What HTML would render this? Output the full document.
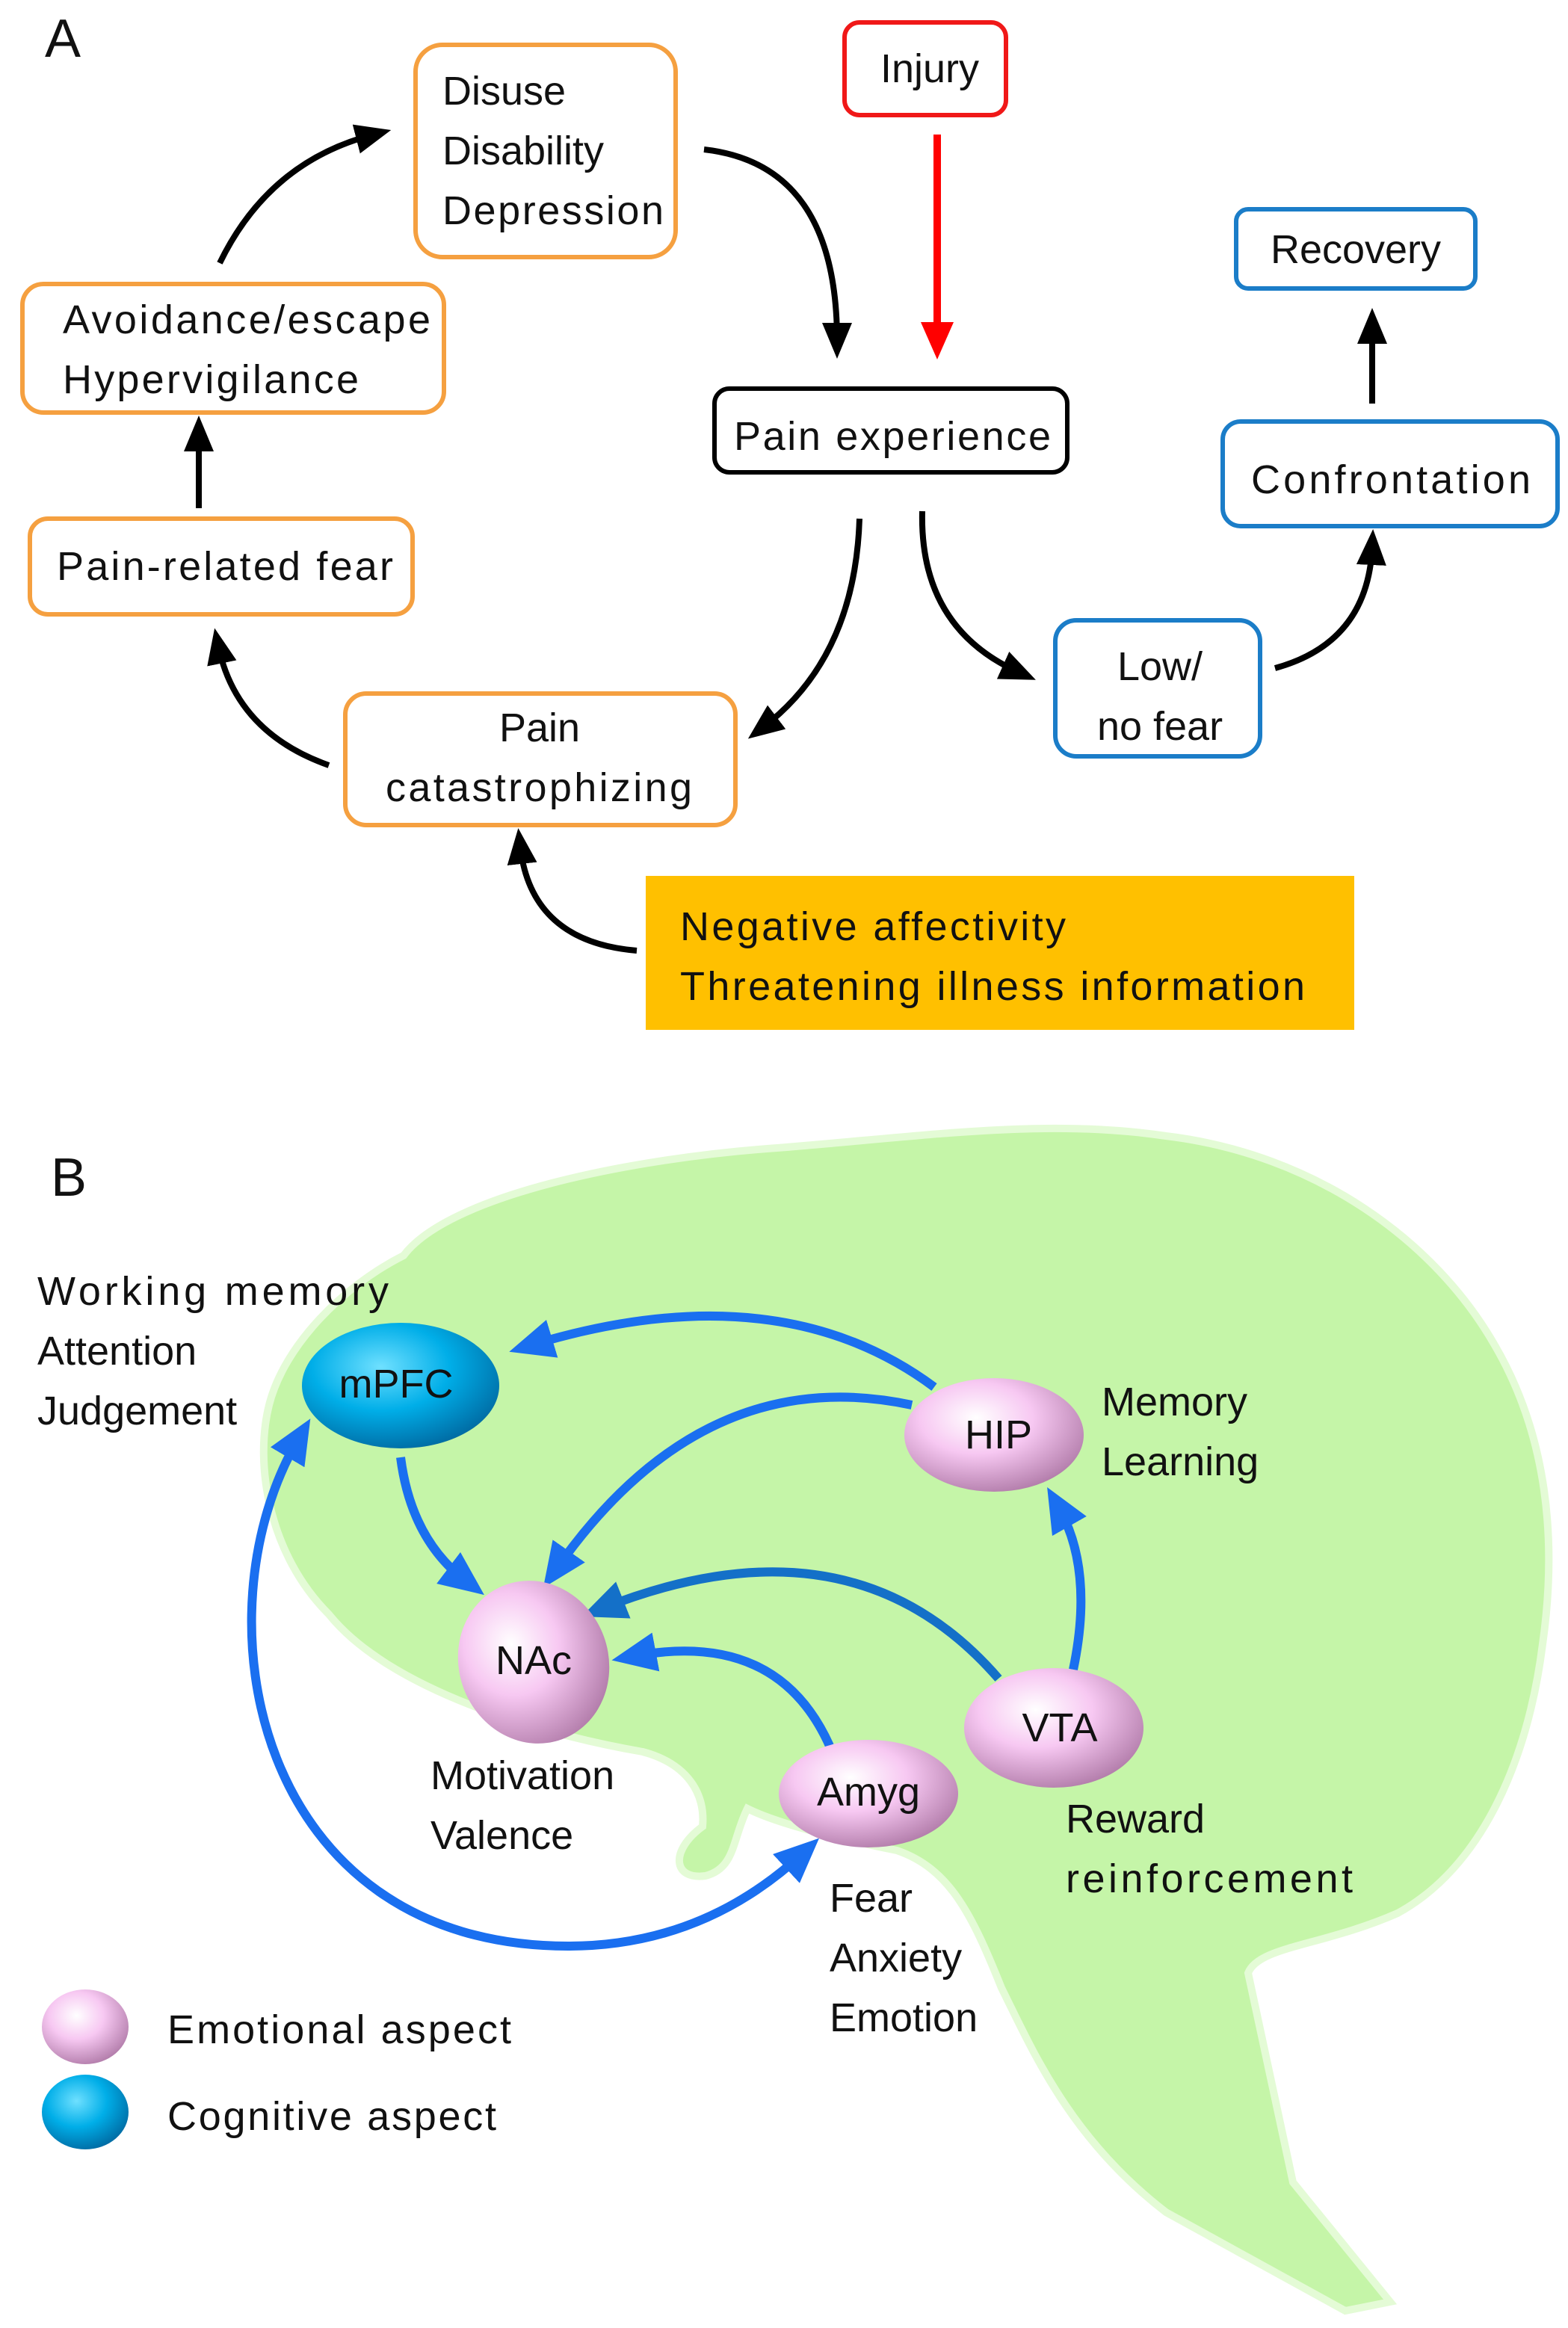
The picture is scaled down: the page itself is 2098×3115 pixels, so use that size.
<!DOCTYPE html>
<html><head><meta charset="utf-8"><style>
html,body{margin:0;padding:0;background:#fff}
svg{display:block}
text{font-family:"Liberation Sans",sans-serif;font-size:27px;fill:#111}
</style></head><body>
<svg width="2098" height="3115" viewBox="0 0 1049 1557.5" xmlns="http://www.w3.org/2000/svg">
<defs>
<marker id="ab" markerWidth="6" markerHeight="6" refX="3" refY="3" orient="auto" markerUnits="strokeWidth"><path d="M0,0.5 L6,3 L0,5.5 Z" fill="#000"/></marker>
<marker id="ar" markerWidth="5" markerHeight="5" refX="2.5" refY="2.5" orient="auto" markerUnits="strokeWidth"><path d="M0,0.3 L5,2.5 L0,4.7 Z" fill="#f00"/></marker>
<marker id="au" markerWidth="5" markerHeight="5" refX="2.5" refY="2.5" orient="auto" markerUnits="strokeWidth"><path d="M0,0.3 L5,2.5 L0,4.7 Z" fill="#1a6ff0"/></marker>
<marker id="au2" markerWidth="5" markerHeight="5" refX="2.5" refY="2.5" orient="auto" markerUnits="strokeWidth"><path d="M0,0.3 L5,2.5 L0,4.7 Z" fill="#1470c8"/></marker>
<marker id="aus" markerWidth="5" markerHeight="5" refX="2.5" refY="2.5" orient="auto-start-reverse" markerUnits="strokeWidth"><path d="M0,0.3 L5,2.5 L0,4.7 Z" fill="#1a6ff0"/></marker>
<radialGradient id="pink" cx="40%" cy="35%" r="70%"><stop offset="0" stop-color="#fff"/><stop offset="0.45" stop-color="#f7c8f2"/><stop offset="1" stop-color="#b07aa8"/></radialGradient>
<radialGradient id="blue" cx="40%" cy="35%" r="70%"><stop offset="0" stop-color="#6fe0ff"/><stop offset="0.5" stop-color="#00aee8"/><stop offset="1" stop-color="#0068a0"/></radialGradient>
</defs>

<!-- Part A -->
<text x="30" y="38" style="font-size:36px">A</text>
<g fill="#fff" stroke-width="3">
<rect x="278" y="30" width="174" height="142" rx="18" stroke="#f5a040"/>
<rect x="565" y="15" width="108" height="62" rx="10" stroke="#f01818"/>
<rect x="478" y="260" width="236" height="56" rx="10" stroke="#000"/>
<rect x="827" y="140" width="160" height="53" rx="8" stroke="#1b7dc8"/>
<rect x="818" y="282" width="224" height="70" rx="12" stroke="#1b7dc8"/>
<rect x="706" y="415" width="137" height="91" rx="14" stroke="#1b7dc8"/>
<rect x="231" y="464" width="261" height="88" rx="14" stroke="#f5a040"/>
<rect x="20" y="347" width="256" height="64" rx="12" stroke="#f5a040"/>
<rect x="15" y="190" width="282" height="86" rx="14" stroke="#f5a040"/>
</g>
<rect x="432" y="586" width="474" height="103" fill="#ffc000"/>
<text x="296" y="70">Disuse</text>
<text x="296" y="110">Disability</text>
<text x="296" y="150" textLength="148">Depression</text>
<text x="622" y="55" text-anchor="middle">Injury</text>
<text x="491" y="301" textLength="212">Pain experience</text>
<text x="907" y="176" text-anchor="middle">Recovery</text>
<text x="837" y="330" textLength="187">Confrontation</text>
<text x="776" y="455" text-anchor="middle">Low/</text>
<text x="776" y="495" text-anchor="middle">no fear</text>
<text x="361" y="496" text-anchor="middle">Pain</text>
<text x="258" y="536" textLength="205">catastrophizing</text>
<text x="38" y="388" textLength="225">Pain-related fear</text>
<text x="42" y="223" textLength="246">Avoidance/escape</text>
<text x="42" y="263" textLength="198">Hypervigilance</text>
<text x="455" y="629" textLength="258">Negative affectivity</text>
<text x="455" y="669" textLength="418">Threatening illness information</text>

<g fill="none" stroke="#000" stroke-width="4" marker-end="url(#ab)">
<path d="M147,176 Q180,108 250,90"/>
<path d="M471,100 Q560,110 560,228"/>
<path d="M575,347 Q572,440 510,487"/>
<path d="M617,342 Q615,420 682,450"/>
<path d="M853,447 Q915,430 918,366"/>
<path d="M918,270 L918,218"/>
<path d="M220,512 Q158,490 146,432"/>
<path d="M133,340 L133,290"/>
<path d="M426,636 Q355,630 348,566"/>
</g>
<path d="M627,90 L627,228" stroke="#f00" stroke-width="5" fill="none" marker-end="url(#ar)"/>

<!-- Part B -->
<text x="34" y="800" style="font-size:36px">B</text>
<path d="M270,840 C300,800 420,775 520,768 C620,760 700,748 780,760 C880,772 960,830 1000,900 C1035,960 1042,1030 1032,1100 C1022,1180 990,1250 935,1280 C885,1302 842,1302 835,1320 L865,1460 L930,1540 L900,1546 L780,1480 C715,1430 690,1370 670,1330 C650,1280 635,1250 600,1238 C560,1230 520,1220 500,1210 C490,1230 492,1250 472,1255 C450,1258 448,1238 470,1222 C472,1200 460,1180 430,1172 C360,1160 260,1130 220,1080 C180,1040 170,980 180,940 C190,900 230,860 270,840 Z" fill="#c5f5a8" stroke="#e4fbd6" stroke-width="5"/>

<g fill="none" stroke="#1a6ff0" stroke-width="6">
<path d="M625,928 Q520,850 355,900" marker-end="url(#au)"/>
<path d="M610,940 Q470,910 372,1050" marker-end="url(#au)"/>
<path d="M668,1123 Q570,1010 403,1076" stroke="#1470c8" marker-end="url(#au2)"/>
<path d="M718,1117 Q732,1050 708,1008" marker-end="url(#au)"/>
<path d="M555,1168 Q520,1090 424,1108" marker-end="url(#au)"/>
<path d="M268,975 Q275,1030 312,1058" marker-end="url(#au)"/>
<path d="M200,962 C130,1080 170,1302 380,1302 C460,1302 510,1265 537,1240" marker-start="url(#aus)" marker-end="url(#au)"/>
</g>

<ellipse cx="268" cy="927" rx="66" ry="42" fill="url(#blue)"/>
<ellipse cx="665" cy="960" rx="60" ry="38" fill="url(#pink)"/>
<ellipse cx="357" cy="1112" rx="50" ry="55" transform="rotate(-20 357 1112)" fill="url(#pink)"/>
<ellipse cx="705" cy="1156" rx="60" ry="40" fill="url(#pink)"/>
<ellipse cx="581" cy="1200" rx="60" ry="36" fill="url(#pink)"/>
<text x="265" y="935" text-anchor="middle">mPFC</text>
<text x="668" y="969" text-anchor="middle">HIP</text>
<text x="357" y="1120" text-anchor="middle">NAc</text>
<text x="709" y="1165" text-anchor="middle">VTA</text>
<text x="581" y="1208" text-anchor="middle">Amyg</text>

<text x="25" y="873" textLength="235">Working memory</text>
<text x="25" y="913">Attention</text>
<text x="25" y="953">Judgement</text>
<text x="737" y="947">Memory</text>
<text x="737" y="987">Learning</text>
<text x="288" y="1197">Motivation</text>
<text x="288" y="1237">Valence</text>
<text x="713" y="1226">Reward</text>
<text x="713" y="1266" textLength="192">reinforcement</text>
<text x="555" y="1279">Fear</text>
<text x="555" y="1319">Anxiety</text>
<text x="555" y="1359">Emotion</text>

<ellipse cx="57" cy="1356" rx="29" ry="25" fill="url(#pink)"/>
<ellipse cx="57" cy="1413" rx="29" ry="25" fill="url(#blue)"/>
<text x="112" y="1367" textLength="230">Emotional aspect</text>
<text x="112" y="1425" textLength="220">Cognitive aspect</text>
</svg>
</body></html>
